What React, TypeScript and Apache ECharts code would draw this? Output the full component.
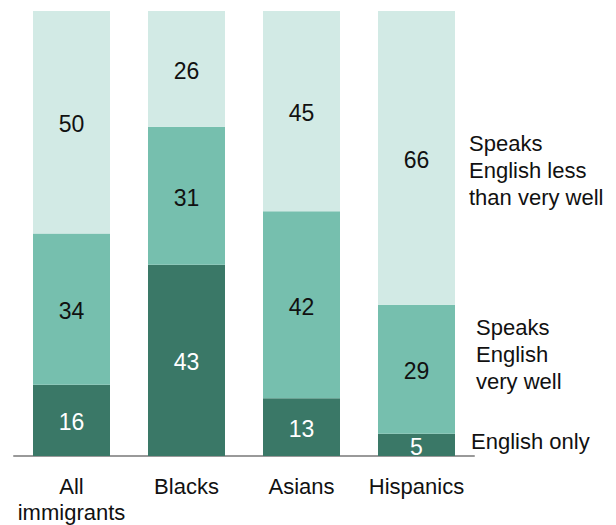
import React, { useEffect, useRef } from "react";
import * as echarts from "echarts";

const categories = ["All\nimmigrants", "Blacks", "Asians", "Hispanics"];
const englishOnly = [16, 43, 13, 5];
const veryWell = [34, 31, 42, 29];
const lessThanVeryWell = [50, 26, 45, 66];
const seriesNames = ["English only", "Speaks English very well", "Speaks English less than very well"];
const colors = ["#3a7867", "#76bfae", "#d2eae5"];
const labelColors = ["#ffffff", "#111111", "#111111"];

const FONT = "Liberation Sans, Arial, sans-serif";

export default function App() {
  const ref = useRef<HTMLDivElement>(null);
  useEffect(() => {
    if (!ref.current) return;
    const chart = echarts.init(ref.current, undefined, { renderer: "svg" });
    const datasets = [englishOnly, veryWell, lessThanVeryWell];
    const legendText = (text: string, left: number, top: number) => ({
      type: "text",
      left,
      top,
      style: { text, fill: "#111111", fontSize: 22, fontFamily: FONT, lineHeight: 27 },
    });
    chart.setOption({
      animation: false,
      grid: { left: 14, right: 142, top: 11, bottom: 69 },
      xAxis: {
        type: "category",
        data: categories,
        axisLine: { lineStyle: { color: "#999999", width: 2 } },
        axisTick: { show: false },
        axisLabel: {
          interval: 0,
          hideOverlap: false,
          color: "#111111",
          fontSize: 22,
          fontFamily: FONT,
          lineHeight: 26,
          margin: 17,
          verticalAlign: "top",
        },
      },
      yAxis: { type: "value", min: 0, max: 100, show: false, splitLine: { show: false } },
      series: datasets.map((d, i) => ({
        type: "bar",
        name: seriesNames[i],
        stack: "total",
        data: d,
        barWidth: 77,
        itemStyle: { color: colors[i] },
        label: {
          show: true,
          position: "inside",
          offset: [0, 2],
          color: labelColors[i],
          fontSize: 23,
          fontFamily: FONT,
        },
      })),
      graphic: [
        legendText("Speaks\nEnglish less\nthan very well", 469, 130),
        legendText("Speaks\nEnglish\nvery well", 476, 314),
        legendText("English only", 471, 428),
      ],
    });
    return () => chart.dispose();
  }, []);
  return <div ref={ref} style={{ width: 616, height: 525, position: "absolute", left: 0, top: 0 }} />;
}
